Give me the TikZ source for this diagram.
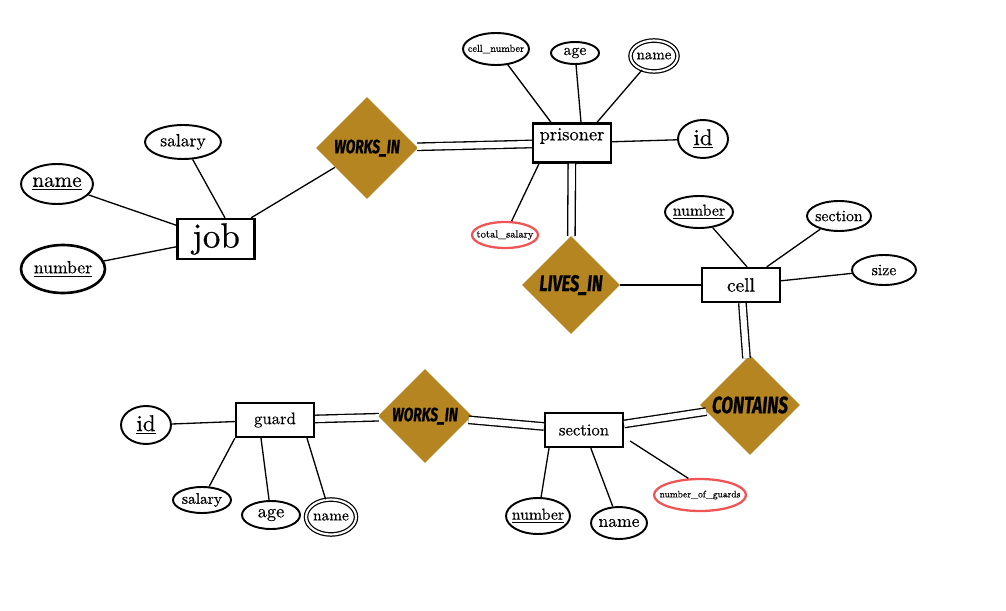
\documentclass[tikz,border=0pt]{standalone}
\usepackage{fontspec}
\usetikzlibrary{shapes.geometric}
\setmainfont{lmroman10-regular}[Extension=.otf,FakeBold=0.45]
\newfontfamily\relfont[FakeStretch=0.72,FakeBold=0.6]{Fira Sans}
\newcommand{\fsz}[1]{\fontsize{#1}{#1}\selectfont}
\definecolor{relgold}{RGB}{181,133,33}
\definecolor{derivedred}{RGB}{240,85,85}
\begin{document}
\begin{tikzpicture}
[x=0.02cm,y=-0.02cm,
  entitydecorate/.style={shape=rectangle,draw,line width=1.3pt,inner sep=0pt,minimum width=1.56cm,minimum height=0.68cm},%
  attrdecorate/.style={shape=ellipse,draw,line width=1.1pt,inner sep=-1cm},%
  derivedecorate/.style={attrdecorate,draw=derivedred,line width=1.3pt},%
  multidecorate/.style={attrdecorate,double,double distance=1.2pt,line width=0.7pt},%
  reldecorate/.style={shape=diamond,aspect=1,fill=relgold,inner sep=-1cm,font=\relfont\bfseries\itshape\fsz{11}},%
  linedecorate/.style={line width=0.75pt},%
  totaldecorate/.style={double,double distance=3.5pt,line width=0.75pt}]
\useasboundingbox (0,0) rectangle (1006,611);
% entities
\node (job) at (216,239) [entitydecorate,minimum width=1.54cm,minimum height=0.8cm,font=\fsz{20}] {job};
\node (prisoner) at (572,143) [entitydecorate,minimum height=0.78cm,text depth=10pt,font=\fsz{10.5}] {prisoner};
\node (cell) at (741,285) [entitydecorate,font=\fsz{11}] {cell};
\node (section) at (584,430) [entitydecorate,font=\fsz{9.5}] {section};
\node (guard) at (275,420) [entitydecorate,font=\fsz{9.5}] {guard};
% relationships
\node (worksA) at (367,148) [reldecorate,minimum size=2.04cm] {WORKS\_IN};
\node (lives) at (571,285) [reldecorate,minimum size=1.96cm,font=\relfont\bfseries\itshape\fsz{13}] {LIVES\_IN};
\node (contains) at (750,405) [reldecorate,minimum size=2.0cm,font=\relfont\bfseries\itshape\fsz{13.5}] {CONTAINS};
\node (worksB) at (425,416) [reldecorate,minimum size=1.88cm] {WORKS\_IN};
% attributes of job
\node (jobsalary) at (183,142) [attrdecorate,minimum width=1.52cm,minimum height=0.68cm,font=\fsz{10}] {salary};
\node (jobname) at (57,184) [attrdecorate,minimum width=1.44cm,minimum height=0.8cm,font=\fsz{12}] {\underline{name}};
\node (jobnumber) at (63,269) [attrdecorate,line width=1.5pt,minimum width=1.68cm,minimum height=0.96cm,font=\fsz{10}] {\underline{number}};
% attributes of prisoner
\node (cellnum) at (496,49) [attrdecorate,minimum width=1.32cm,minimum height=0.64cm,font=\fsz{5.8}] {cell\_number};
\node (page) at (575,53) [attrdecorate,minimum width=0.96cm,minimum height=0.44cm,font=\fsz{9}] {age};
\node (pname) at (654,56) [multidecorate,minimum width=0.94cm,minimum height=0.62cm,font=\fsz{8.5}] {name};
\node (pid) at (703,139) [attrdecorate,minimum width=1.0cm,minimum height=0.76cm,font=\fsz{13}] {\underline{id}};
\node (totsal) at (505,235) [derivedecorate,minimum width=1.32cm,minimum height=0.52cm,font=\fsz{6}] {total\_salary};
% attributes of cell
\node (cnumber) at (699,212) [attrdecorate,minimum width=1.36cm,minimum height=0.64cm,font=\fsz{9}] {\underline{number}};
\node (csection) at (839,216) [attrdecorate,minimum width=1.28cm,minimum height=0.6cm,font=\fsz{9}] {section};
\node (csize) at (884,270) [attrdecorate,minimum width=1.28cm,minimum height=0.6cm,font=\fsz{9}] {size};
% attributes of section
\node (nog) at (700,495) [derivedecorate,minimum width=1.84cm,minimum height=0.64cm,font=\fsz{5.4}] {number\_of\_guards};
\node (snumber) at (538,516) [attrdecorate,minimum width=1.28cm,minimum height=0.72cm,font=\fsz{9}] {\underline{number}};
\node (sname) at (619,523) [attrdecorate,minimum width=1.12cm,minimum height=0.64cm,font=\fsz{10}] {name};
% attributes of guard
\node (gid) at (146,425) [attrdecorate,minimum width=1.0cm,minimum height=0.76cm,font=\fsz{13}] {\underline{id}};
\node (gsalary) at (202,500) [attrdecorate,minimum width=1.16cm,minimum height=0.52cm,font=\fsz{8.8}] {salary};
\node (gage) at (271,515) [attrdecorate,minimum width=1.16cm,minimum height=0.56cm,font=\fsz{10.5}] {age};
\node (gname) at (331,517) [multidecorate,minimum width=1.0cm,minimum height=0.7cm,font=\fsz{8.7}] {name};
% single lines
\path
([xshift=0.18cm]job.north) edge[linedecorate] (jobsalary)
(job) edge[linedecorate] (jobname)
(job) edge[linedecorate] (jobnumber)
(job) edge[linedecorate] (worksA)
([xshift=-0.42cm]prisoner.north) edge[linedecorate] (cellnum)
([xshift=0.18cm]prisoner.north) edge[linedecorate] (page)
([xshift=0.5cm]prisoner.north) edge[linedecorate] (pname)
(prisoner) edge[linedecorate] (pid)
([xshift=-0.66cm]prisoner.south) edge[linedecorate] (totsal)
(lives) edge[linedecorate] (cell)
([xshift=0.12cm]cell.north) edge[linedecorate] (cnumber)
(cell) edge[linedecorate] (csection)
(cell) edge[linedecorate] (csize)
([xshift=-0.7cm]section.south) edge[linedecorate] (snumber)
(section) edge[linedecorate] (sname)
([xshift=0.12cm,yshift=-0.22cm]section.east) edge[linedecorate] (nog.125)
(guard) edge[linedecorate] (gid)
(guard.south west) edge[linedecorate] (gsalary)
([xshift=-0.28cm]guard.south) edge[linedecorate] (gage)
([xshift=0.64cm]guard.south) edge[linedecorate] (gname);
% total participation
\path
(worksA) edge[totaldecorate] (prisoner)
(prisoner) edge[totaldecorate] (lives)
(cell) edge[totaldecorate] (contains)
(contains) edge[totaldecorate] (section)
(section) edge[totaldecorate] (worksB)
(worksB) edge[totaldecorate] (guard);
\end{tikzpicture}
\end{document}
